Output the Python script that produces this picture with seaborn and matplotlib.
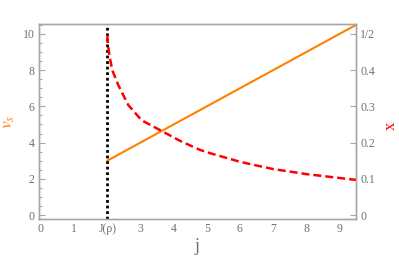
import numpy as np
import pandas as pd
import matplotlib
matplotlib.use("Agg")
import matplotlib.pyplot as plt
import seaborn as sns

# data
j_line = [2.0, 9.5]
vs_line = [3.0, 10.5]

j_curve = [2.00, 2.02, 2.05, 2.08, 2.15, 2.33, 2.63, 3.03, 3.64, 4.19,
           4.79, 5.09, 6.00, 6.54, 7.00, 8.00, 9.50]
x_curve = [0.497, 0.470, 0.450, 0.433, 0.400, 0.359, 0.304, 0.262, 0.232,
           0.205, 0.180, 0.171, 0.147, 0.136, 0.127, 0.113, 0.097]

j_mark = 2.0
xticks = [0, 1, 2, 3, 4, 5, 6, 7, 8, 9]
xticklabels = ["0", "1", "J(ρ)", "3", "4", "5", "6", "7", "8", "9"]
left_ticks = [0, 2, 4, 6, 8, 10]
right_ticks = [0, 0.1, 0.2, 0.3, 0.4, 0.5]
right_labels = ["0", "0.1", "0.2", "0.3", "0.4", "1/2"]

sns.set_style("white")
plt.rcParams["font.family"] = ["Liberation Serif", "DejaVu Serif"]
plt.rcParams["mathtext.fontset"] = "stix"

orange = "#ff8000"
red = "#ff0000"
gray = "#a6a6a6"
tgray = "#707070"

fig = plt.figure(figsize=(3.99, 2.60), dpi=100)
ax = fig.add_axes([0.0977, 0.1577, 0.7945, 0.75])
ax2 = ax.twinx()

df_line = pd.DataFrame({"j": j_line, "vs": vs_line})
df_curve = pd.DataFrame({"j": j_curve, "x": x_curve})

sns.lineplot(data=df_line, x="j", y="vs", ax=ax, color=orange, lw=1.5)
sns.lineplot(data=df_curve, x="j", y="x", ax=ax2, color=red, lw=1.8,
             dashes=False, linestyle=(0, (3.2, 1.6)))
ax.axvline(j_mark, color="black", lw=2, linestyle=(0, (1, 1)))

ylo, yhi = -0.22, 10.55
ax.set_xlim(-0.06, 9.5)
ax.set_ylim(ylo, yhi)
ax2.set_ylim(ylo / 20, yhi / 20)

ax.set_xticks(xticks)
ax.set_xticklabels(xticklabels)
ax.set_yticks(left_ticks)
ax.set_yticks(np.arange(0, 10.6, 0.5), minor=True)
ax2.set_yticks(right_ticks)
ax2.set_yticklabels(right_labels)

for a in (ax, ax2):
    for s in a.spines.values():
        s.set_color(gray)
        s.set_linewidth(1.0)
    a.tick_params(which="both", direction="in", color=gray, labelcolor=tgray,
                  labelsize=8.5, width=0.8)
    a.tick_params(which="major", length=4, pad=3)
    a.tick_params(which="minor", length=2)
ax2.tick_params(axis="y", which="both", left=False, right=True)

ax.set_xlabel("j", fontsize=13, color=tgray)
ax.xaxis.set_label_coords(0.5, -0.1)
ax.set_ylabel("$v_s$", fontsize=13, color=orange)
ax.yaxis.set_label_coords(-0.07, 0.5)
ax2.set_ylabel("x", fontsize=12, color=red, rotation=90)
ax2.yaxis.set_label_coords(1.085, 0.48)

fig.savefig("out.png", dpi=100)
